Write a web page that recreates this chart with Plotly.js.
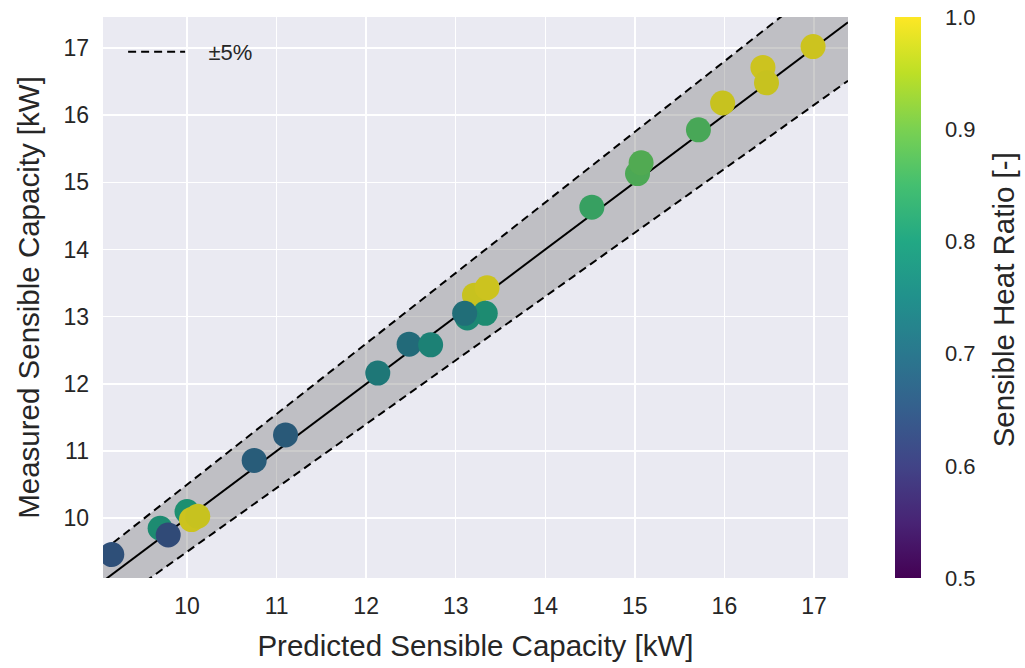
<!DOCTYPE html>
<html>
<head>
<meta charset="utf-8">
<script src="https://cdn.plot.ly/plotly-3.0.1.min.js"></script>
<style>
  html, body { margin: 0; padding: 0; background: #ffffff; }
  #chart { width: 1025px; height: 668px; }
</style>
</head>
<body>
<div id="chart"></div>
<script>
// Predicted vs. measured sensible capacity, coloured by sensible heat ratio
const predicted = [9.70, 9.16, 9.79, 10.00, 10.05, 10.12,
                   10.75, 11.10, 12.13, 12.48, 12.72,
                   13.21, 13.35, 13.33, 13.13, 13.10,
                   14.52, 15.03, 15.07, 15.71, 15.98, 16.43, 16.47, 16.99];
const measured  = [9.85, 9.46, 9.75, 10.10, 9.98, 10.03,
                   10.86, 11.24, 12.16, 12.59, 12.58,
                   13.32, 13.43, 13.05, 12.98, 13.05,
                   14.63, 15.13, 15.29, 15.78, 16.18, 16.71, 16.48, 17.02];
const shr       = [0.79, 0.645, 0.635, 0.80, 0.99, 0.985,
                   0.675, 0.67, 0.74, 0.71, 0.765,
                   0.985, 0.99, 0.79, 0.78, 0.72,
                   0.845, 0.87, 0.875, 0.865, 0.985, 0.99, 0.985, 0.99];

// Axis limits and the ±5 % tolerance band
const xRange = [9.062, 17.38];
const yRange = [9.11, 17.46];
const tolerance = 0.05;
const xTicks = [10, 11, 12, 13, 14, 15, 16, 17];
const yTicks = [10, 11, 12, 13, 14, 15, 16, 17];
const shrRange = [0.5, 1.0];
const shrTicks = [0.5, 0.6, 0.7, 0.8, 0.9, 1.0];

// Viridis reference stops; the markers use a slightly darker rendering of it
const viridisHex = ['#440154', '#482475', '#414487', '#355f8d', '#2a788e', '#21918c',
                    '#22a884', '#44bf70', '#7ad151', '#bddf26', '#fde725'];
const shade = 0.85;
function darken(hex, f) {
  const n = parseInt(hex.slice(1), 16);
  const r = Math.round(((n >> 16) & 255) * f);
  const g = Math.round(((n >> 8) & 255) * f);
  const b = Math.round((n & 255) * f);
  return 'rgb(' + r + ',' + g + ',' + b + ')';
}
const viridisScale = viridisHex.map((c, i) => [i / (viridisHex.length - 1), c]);
const markerScale = viridisHex.map((c, i) => [i / (viridisHex.length - 1), darken(c, shade)]);

const lower = xRange.map(v => v * (1 - tolerance));
const upper = xRange.map(v => v * (1 + tolerance));

const textColor = '#262626';
const fontFamily = '"Liberation Sans", Arial, sans-serif';
const dashStyle = { color: 'black', width: 2, dash: '8px,5px' };
const tickSize = 23;
const titleSize = 29.5;

const traces = [
  {
    x: xRange, y: lower, mode: 'lines', type: 'scatter',
    line: dashStyle, showlegend: false, hoverinfo: 'skip'
  },
  {
    x: xRange, y: upper, mode: 'lines', type: 'scatter',
    line: dashStyle,
    fill: 'tonexty', fillcolor: 'rgba(128,128,128,0.4)',
    showlegend: false, hoverinfo: 'skip'
  },
  {
    x: xRange, y: xRange, mode: 'lines', type: 'scatter',
    line: { color: 'black', width: 2 },
    showlegend: false, hoverinfo: 'skip'
  },
  {
    // legend entry for the tolerance lines
    x: [null], y: [null], mode: 'lines', type: 'scatter',
    line: dashStyle, name: '\u00a0\u00a0\u00a0±5%', showlegend: true
  },
  {
    x: predicted, y: measured, mode: 'markers', type: 'scatter',
    showlegend: false,
    marker: {
      size: 25,
      color: shr,
      cmin: shrRange[0], cmax: shrRange[1],
      colorscale: markerScale,
      showscale: false,
      line: { width: 0 }
    }
  },
  {
    // colour scale bar
    x: [null], y: [null], mode: 'markers', type: 'scatter',
    showlegend: false, hoverinfo: 'skip',
    marker: {
      color: shrRange,
      cmin: shrRange[0], cmax: shrRange[1],
      colorscale: viridisScale,
      showscale: true,
      colorbar: {
        x: 1.063, xanchor: 'left', xpad: 0,
        y: 0.5, yanchor: 'middle', ypad: 0,
        len: 1, lenmode: 'fraction',
        thickness: 26,
        outlinewidth: 0,
        tickvals: shrTicks,
        ticktext: shrTicks.map(v => v.toFixed(1)),
        ticks: 'outside', ticklen: 20, tickcolor: 'rgba(0,0,0,0)',
        tickfont: { size: 22, color: textColor, family: fontFamily }
      }
    }
  }
];

const layout = {
  width: 1025, height: 668,
  margin: { l: 103, r: 177, t: 17, b: 90 },
  paper_bgcolor: '#ffffff',
  plot_bgcolor: '#eaeaf2',
  font: { family: fontFamily, color: textColor },
  showlegend: true,
  legend: {
    x: 0.027, y: 0.975, xanchor: 'left', yanchor: 'top',
    bgcolor: 'rgba(0,0,0,0)',
    itemwidth: 57,
    font: { size: 22, color: textColor, family: fontFamily }
  },
  xaxis: {
    range: xRange,
    tickvals: xTicks,
    showgrid: true, gridcolor: '#ffffff', gridwidth: 1.5,
    zeroline: false, showline: false, ticks: '',
    ticklabelstandoff: 12,
    tickfont: { size: tickSize, color: textColor },
    title: { text: 'Predicted Sensible Capacity [kW]', standoff: 17,
             font: { size: titleSize, color: textColor } }
  },
  yaxis: {
    range: yRange,
    tickvals: yTicks,
    showgrid: true, gridcolor: '#ffffff', gridwidth: 1.5,
    zeroline: false, showline: false, ticks: '',
    ticklabelstandoff: 13,
    tickfont: { size: tickSize, color: textColor },
    title: { text: 'Measured Sensible Capacity [kW]', standoff: 15,
             font: { size: titleSize, color: textColor } }
  },
  annotations: [{
    text: 'Sensible Heat Ratio [-]',
    xref: 'paper', yref: 'paper',
    x: (1003 - 103) / 745, y: 0.495,
    xanchor: 'center', yanchor: 'middle',
    textangle: -90, showarrow: false,
    font: { size: titleSize, color: textColor, family: fontFamily }
  }],
  hovermode: false
};

Plotly.newPlot('chart', traces, layout, { displayModeBar: false, staticPlot: true });
</script>
</body>
</html>
